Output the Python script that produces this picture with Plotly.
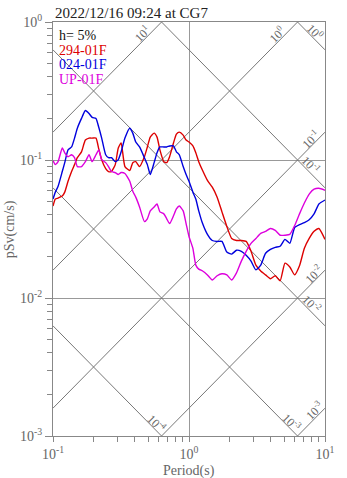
import numpy as np
import plotly.graph_objects as go

# Pseudo-velocity response spectra (h = 5%), tripartite log-log chart
period = [0.100, 0.104, 0.109, 0.117, 0.122, 0.129, 0.137, 0.144, 0.151, 0.162,
          0.173, 0.184, 0.194, 0.207, 0.217, 0.228, 0.244, 0.256, 0.269, 0.287,
          0.302, 0.317, 0.338, 0.367, 0.386, 0.406, 0.433, 0.470, 0.494, 0.519,
          0.554, 0.582, 0.611, 0.653, 0.686, 0.720, 0.769, 0.808, 0.849, 0.906,
          0.952, 1.000, 1.068, 1.122, 1.179, 1.259, 1.366, 1.483, 1.610, 1.747,
          1.897, 2.059, 2.235, 2.426, 2.633, 2.859, 3.103, 3.368, 3.657, 3.969,
          4.308, 4.677, 5.077, 5.512, 5.983, 6.494, 7.051, 7.653, 8.309, 9.017,
          10.00]

sv_294 = [0.0464, 0.0521, 0.0530, 0.0548, 0.0585, 0.0701, 0.0825, 0.0926, 0.1039, 0.1146,
          0.1395, 0.1441, 0.1441, 0.1441, 0.1204, 0.1005, 0.0867, 0.0825, 0.0825, 0.0926,
          0.1223, 0.1328, 0.0896, 0.0839, 0.0957, 0.0973, 0.0896, 0.1056, 0.1243, 0.1465,
          0.1565, 0.1465, 0.1184, 0.0973, 0.0957, 0.1056, 0.1328, 0.1539, 0.1591, 0.1514,
          0.1395, 0.1350, 0.1264, 0.1127, 0.0973, 0.0839, 0.0712, 0.0635, 0.0538, 0.0421,
          0.0330, 0.0270, 0.0261, 0.0261, 0.0257, 0.0218, 0.0173, 0.0157, 0.0147, 0.0138,
          0.0145, 0.0133, 0.0179, 0.0168, 0.0147, 0.0171, 0.0229, 0.0270, 0.0304, 0.0319,
          0.0266]

sv_024 = [0.0521, 0.0585, 0.0645, 0.0825, 0.0957, 0.1184, 0.1243, 0.1441, 0.1699, 0.2002,
          0.2284, 0.2173, 0.2035, 0.2002, 0.1726, 0.1441, 0.1091, 0.1039, 0.1039, 0.0973,
          0.1005, 0.1146, 0.1441, 0.1699, 0.1565, 0.1350, 0.1243, 0.1039, 0.0926, 0.0785,
          0.0957, 0.1127, 0.1243, 0.1243, 0.1243, 0.1264, 0.1264, 0.1146, 0.1091, 0.0896,
          0.0785, 0.0701, 0.0585, 0.0521, 0.0428, 0.0346, 0.0289, 0.0261, 0.0257, 0.0257,
          0.0215, 0.0208, 0.0222, 0.0218, 0.0204, 0.0185, 0.0160, 0.0173, 0.0211, 0.0225,
          0.0233, 0.0237, 0.0266, 0.0249, 0.0324, 0.0340, 0.0352, 0.0369, 0.0407, 0.0480,
          0.0513]

sv_up = [0.0989, 0.0926, 0.0973, 0.1223, 0.1127, 0.1056, 0.1091, 0.1039, 0.0896, 0.0896,
         0.0973, 0.1091, 0.0973, 0.1091, 0.1184, 0.1005, 0.0957, 0.0896, 0.0825, 0.0811,
         0.0785, 0.0811, 0.0798, 0.0701, 0.0594, 0.0538, 0.0457, 0.0358, 0.0375, 0.0428,
         0.0457, 0.0480, 0.0421, 0.0407, 0.0375, 0.0346, 0.0394, 0.0442, 0.0464, 0.0428,
         0.0346, 0.0279, 0.0229, 0.0173, 0.0162, 0.0157, 0.0147, 0.0135, 0.0145, 0.0150,
         0.0147, 0.0135, 0.0152, 0.0185, 0.0218, 0.0249, 0.0270, 0.0294, 0.0304, 0.0319,
         0.0309, 0.0285, 0.0285, 0.0289, 0.0335, 0.0407, 0.0488, 0.0566, 0.0614, 0.0624,
         0.0604]

series_names = ["294-01F", "024-01F", "UP-01F"]
series_colors = ["#dd0000", "#0000dd", "#dd00dd"]

# Constant acceleration (cm/s^2) and constant displacement (cm) guide lines
accel_levels = [10, 1, 0.1, 0.01, 0.001]
disp_levels = [1, 0.1, 0.01, 0.001, 0.0001]
accel_label_period = [0.455, 4.45, 7.8, 8.2, 8.4]
disp_label_period = [8.4, 7.8, 7.9, 5.7, 0.58]

title_text = "2022/12/16 09:24 at CG7"
damping_text = "h= 5%"

FONT = "Liberation Serif"
GRAY = "#666666"
TWO_PI = 2 * np.pi

fig = go.Figure()

t_end = np.array([0.1, 10.0])
for a in accel_levels:
    fig.add_trace(go.Scatter(x=t_end, y=a * t_end / TWO_PI, mode="lines",
                             line=dict(color="#777777", width=1),
                             hoverinfo="skip", showlegend=False))
for d in disp_levels:
    fig.add_trace(go.Scatter(x=t_end, y=TWO_PI * d / t_end, mode="lines",
                             line=dict(color="#777777", width=1),
                             hoverinfo="skip", showlegend=False))

for sv, name, col in zip([sv_294, sv_024, sv_up], series_names, series_colors):
    fig.add_trace(go.Scatter(x=period, y=sv, mode="lines", name=name,
                             line=dict(color=col, width=1.4, shape="spline", smoothing=0.5),
                             showlegend=False))


def power_label(v):
    e = int(round(np.log10(v)))
    return "10<sup>%s</sup>" % ("-%d" % abs(e) if e < 0 else "%d" % e)


annotations = []
for a, t in zip(accel_levels, accel_label_period):
    annotations.append(dict(x=np.log10(t), y=np.log10(a * t / TWO_PI), xref="x", yref="y",
                            text=power_label(a), textangle=-45, showarrow=False, yshift=8,
                            font=dict(family=FONT, size=12, color=GRAY)))
for d, t in zip(disp_levels, disp_label_period):
    annotations.append(dict(x=np.log10(t), y=np.log10(TWO_PI * d / t), xref="x", yref="y",
                            text=power_label(d), textangle=45, showarrow=False, yshift=8,
                            font=dict(family=FONT, size=12, color=GRAY)))

# Title and legend block
annotations.append(dict(x=0, y=1, xref="paper", yref="paper", xanchor="left", yanchor="bottom",
                        text=title_text, showarrow=False, yshift=-1,
                        font=dict(family=FONT, size=15, color="#222222")))
legend_rows = [(damping_text, "#111111")] + list(zip(series_names, series_colors))
for i, (txt, col) in enumerate(legend_rows):
    annotations.append(dict(x=0.014, y=1 - (14 + 14.7 * i) / 421, xref="paper", yref="paper",
                            xanchor="left", yanchor="middle", text=txt, showarrow=False,
                            font=dict(family=FONT, size=14, color=col)))

# Axis titles
annotations.append(dict(x=0.5, y=-36 / 421, xref="paper", yref="paper", xanchor="center",
                        yanchor="middle", text="Period(s)", showarrow=False,
                        font=dict(family=FONT, size=14, color=GRAY)))
annotations.append(dict(x=-44 / 280, y=0.5, xref="paper", yref="paper", xanchor="center",
                        yanchor="middle", text="pSv(cm/s)", textangle=-90, showarrow=False,
                        font=dict(family=FONT, size=14, color=GRAY)))

x_major = [0.1, 1, 10]
y_major = [0.001, 0.01, 0.1, 1]
x_minor = [m * 10.0 ** e for e in range(-1, 1) for m in range(2, 10)]
y_minor = [m * 10.0 ** e for e in range(-3, 0) for m in range(2, 10)]

axis_common = dict(type="log", showline=True, mirror=True, linecolor="#888888", linewidth=1.2,
                   showgrid=True, gridcolor="#999999", gridwidth=1, zeroline=False,
                   ticks="outside", tickcolor="#888888", tickmode="array",
                   tickfont=dict(family=FONT, size=14, color=GRAY))

fig.update_xaxes(range=[-1, 1], tickvals=x_major, ticktext=[power_label(v) for v in x_major],
                 ticklen=5,
                 minor=dict(tickmode="array", tickvals=x_minor, ticks="outside", ticklen=5,
                            tickcolor="#888888", showgrid=False),
                 **axis_common)
fig.update_yaxes(range=[-3, 0], tickvals=y_major, ticktext=[power_label(v) for v in y_major],
                 ticklen=7,
                 minor=dict(tickmode="array", tickvals=y_minor, ticks="outside", ticklen=5,
                            tickcolor="#888888", showgrid=False),
                 **axis_common)

fig.update_layout(width=347, height=478, margin=dict(l=53, r=14, t=15, b=42),
                  paper_bgcolor="white", plot_bgcolor="white", showlegend=False,
                  annotations=annotations)

fig.write_html("out.html")
